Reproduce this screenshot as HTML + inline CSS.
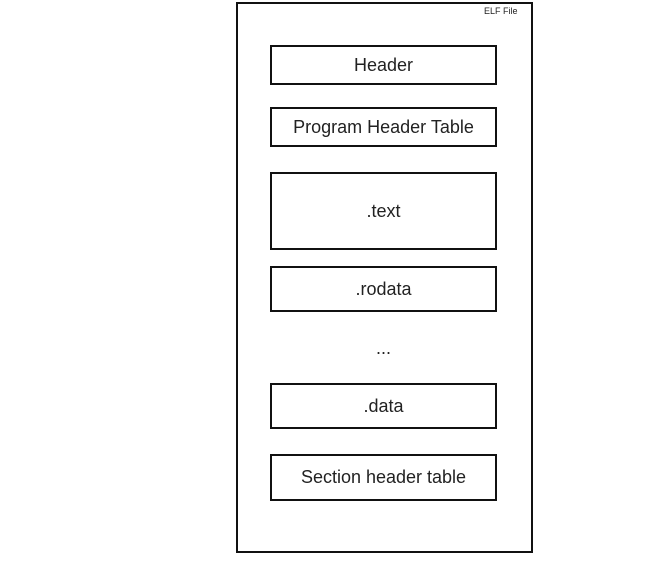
<!DOCTYPE html>
<html><head><meta charset="utf-8"><style>
html,body{margin:0;padding:0;background:#fff;width:663px;height:572px;overflow:hidden}
.b{position:absolute;box-sizing:border-box;border:2.5px solid #111;background:#fff;display:flex;align-items:center;justify-content:center;font-family:"Liberation Sans",sans-serif;font-size:18px;color:#222}
.t{position:absolute;font-family:"Liberation Sans",sans-serif;color:#222}
</style></head><body>
<div class="b" style="left:236px;top:2px;width:297px;height:551px;border-width:2.5px"></div>
<div class="t" style="left:484px;top:6px;font-size:9px">ELF File</div>
<div class="b" style="left:270px;top:45px;width:227px;height:40px">Header</div>
<div class="b" style="left:270px;top:107px;width:227px;height:40px">Program Header Table</div>
<div class="b" style="left:270px;top:172px;width:227px;height:78px">.text</div>
<div class="b" style="left:270px;top:266px;width:227px;height:46px">.rodata</div>
<div class="t" style="left:270px;width:227px;text-align:center;top:338px;font-size:18px">...</div>
<div class="b" style="left:270px;top:383px;width:227px;height:46px">.data</div>
<div class="b" style="left:270px;top:454px;width:227px;height:47px">Section header table</div>
</body></html>
